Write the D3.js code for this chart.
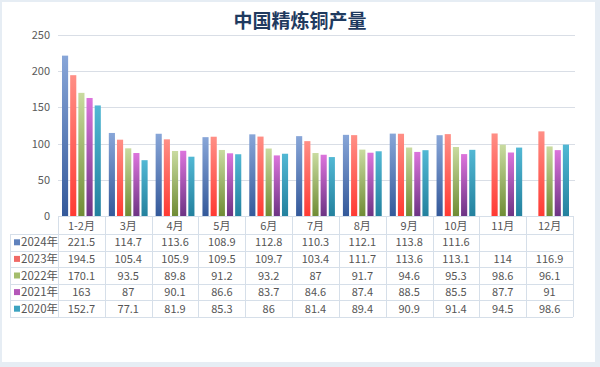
<!DOCTYPE html>
<html>
<head>
<meta charset="utf-8">
<script src="https://cdn.jsdelivr.net/npm/d3@7"></script>
<style>
  body { margin: 0; background: #fff; }
  text { font-family: "Noto Sans CJK SC", "Noto Sans", sans-serif; }
</style>
</head>
<body>
<div id="vis"></div>
<script>
const months = ["1-2月", "3月", "4月", "5月", "6月", "7月", "8月", "9月", "10月", "11月", "12月"];
const seriesNames = ["2024年", "2023年", "2022年", "2021年", "2020年"];
const v2024 = [221.5, 114.7, 113.6, 108.9, 112.8, 110.3, 112.1, 113.8, 111.6, null, null];
const v2023 = [194.5, 105.4, 105.9, 109.5, 109.7, 103.4, 111.7, 113.6, 113.1, 114, 116.9];
const v2022 = [170.1, 93.5, 89.8, 91.2, 93.2, 87, 91.7, 94.6, 95.3, 98.6, 96.1];
const v2021 = [163, 87, 90.1, 86.6, 83.7, 84.6, 87.4, 88.5, 85.5, 87.7, 91];
const v2020 = [152.7, 77.1, 81.9, 85.3, 86, 81.4, 89.4, 90.9, 91.4, 94.5, 98.6];
const yTicks = [0, 50, 100, 150, 200, 250];

const values = [v2024, v2023, v2022, v2021, v2020];
// top / bottom of each bar's gradient, plus legend swatch
const grads = [
  ["#88a6d8", "#34599a", "#5f82bd"],
  ["#ff8f86", "#ff3a33", "#f06a66"],
  ["#c9dba0", "#6f8c35", "#a4bd6c"],
  ["#dc74dc", "#6d3484", "#b457b8"],
  ["#52b8d4", "#23819e", "#3ca3c0"]
];

const width = 600, height = 367;
const svg = d3.select("#vis").append("svg")
  .attr("width", width).attr("height", height);

// frame
svg.append("rect").attr("x", 0).attr("y", 0).attr("width", width).attr("height", height)
  .attr("fill", "#e6edf4");
svg.append("rect").attr("x", 2).attr("y", 2).attr("width", 593).attr("height", 360)
  .attr("fill", "#fff");

const defs = svg.append("defs");
grads.forEach((g, i) => {
  const lg = defs.append("linearGradient").attr("id", "g" + i)
    .attr("x1", 0).attr("y1", 0).attr("x2", 0).attr("y2", 1);
  lg.append("stop").attr("offset", "0%").attr("stop-color", g[0]);
  lg.append("stop").attr("offset", "100%").attr("stop-color", g[1]);
});

const plotLeft = 58, plotRight = 573, plotTop = 35, base = 216;
const x = d3.scaleBand().domain(months).range([plotLeft, plotRight]).paddingInner(0).paddingOuter(0);
const xs = d3.scaleBand().domain(seriesNames).range([4, x.bandwidth() - 4]).paddingInner(0.25);
const y = d3.scaleLinear().domain([0, 250]).range([base, plotTop]);

svg.append("text").attr("x", 300).attr("y", 28).attr("text-anchor", "middle")
  .attr("font-size", 19).attr("font-weight", "bold").attr("fill", "#1f3a5f")
  .attr("font-family", "'Noto Serif CJK SC', 'Noto Sans CJK SC', serif")
  .text("中国精炼铜产量");

// grid
svg.append("g").selectAll("line").data(yTicks.filter(d => d > 0)).join("line")
  .attr("x1", plotLeft).attr("x2", 575)
  .attr("y1", d => Math.round(y(d)) + 0.5).attr("y2", d => Math.round(y(d)) + 0.5)
  .attr("stroke", "#d9dee6");

svg.append("g").selectAll("text").data(yTicks).join("text")
  .attr("x", 50).attr("y", d => y(d) + 4).attr("text-anchor", "end")
  .attr("font-size", 11).attr("fill", "#5a5a5a").text(d => d);

// bars
values.forEach((vals, si) => {
  svg.append("g").selectAll("rect").data(vals.map((v, i) => ({m: months[i], v})).filter(d => d.v != null))
    .join("rect")
    .attr("x", d => x(d.m) + xs(seriesNames[si]))
    .attr("width", xs.bandwidth())
    .attr("y", d => y(d.v))
    .attr("height", d => base - y(d.v))
    .attr("fill", "url(#g" + si + ")");
});

// data table
const tLeft = 10, rowH = 16.6, headH = 18;
const tbl = svg.append("g");
const lineCol = "#d6dfe9";
const textCol = "#555";
const rowTop = i => base + headH + i * rowH;
const tBottom = rowTop(seriesNames.length);

// horizontal lines
tbl.append("line").attr("x1", plotLeft).attr("x2", plotRight).attr("y1", base + 0.5).attr("y2", base + 0.5).attr("stroke", lineCol);
d3.range(seriesNames.length + 1).forEach(i => {
  tbl.append("line").attr("x1", tLeft).attr("x2", plotRight)
    .attr("y1", Math.round(rowTop(i)) + 0.5).attr("y2", Math.round(rowTop(i)) + 0.5).attr("stroke", lineCol);
});
// vertical lines
tbl.append("line").attr("x1", tLeft + 0.5).attr("x2", tLeft + 0.5).attr("y1", rowTop(0)).attr("y2", tBottom).attr("stroke", lineCol);
months.concat(["end"]).forEach((m, i) => {
  const xx = Math.round(i < months.length ? x(m) : plotRight) + 0.5;
  tbl.append("line").attr("x1", xx).attr("x2", xx).attr("y1", base).attr("y2", tBottom).attr("stroke", lineCol);
});

tbl.selectAll("text.cat").data(months).join("text")
  .attr("x", d => x(d) + x.bandwidth() / 2).attr("y", base + 14)
  .attr("text-anchor", "middle").attr("font-size", 11).attr("fill", textCol).text(d => d);

seriesNames.forEach((s, si) => {
  const cy = rowTop(si) + rowH / 2;
  tbl.append("rect").attr("x", 14).attr("y", cy - 3).attr("width", 6).attr("height", 6).attr("fill", grads[si][2]);
  tbl.append("text").attr("x", 21).attr("y", cy + 4).attr("font-size", 11.5).attr("fill", textCol).text(s);
  tbl.append("g").selectAll("text").data(values[si].map((v, i) => ({m: months[i], v})).filter(d => d.v != null))
    .join("text")
    .attr("x", d => x(d.m) + x.bandwidth() / 2).attr("y", cy + 4)
    .attr("text-anchor", "middle").attr("font-size", 11).attr("fill", textCol).text(d => d.v);
});
</script>
</body>
</html>
